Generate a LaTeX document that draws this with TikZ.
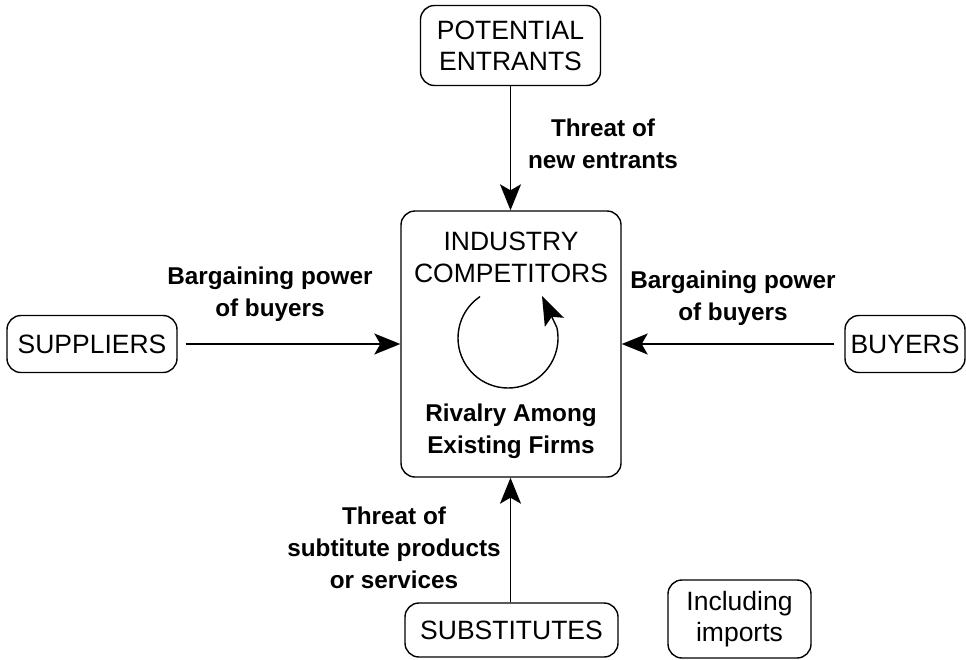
\documentclass[tikz,border=0pt]{standalone}
\usepackage{fontspec}
\setmainfont{Liberation Sans}
\usetikzlibrary{arrows.meta}
\begin{document}
\begin{tikzpicture}[x=1pt,y=-1pt,
 box/.style={draw,line width=1.4pt,rounded corners=14pt,inner sep=0pt,align=center,font=\fontsize{26.5}{31}\selectfont},
 lbl/.style={font=\bfseries\fontsize{24.3}{32}\selectfont,align=center,inner sep=0pt},
 txt/.style={font=\fontsize{26.5}{32}\selectfont,align=center,inner sep=0pt},
 arr/.style={line width=1.4pt,-{Stealth[length=26pt,width=21pt,inset=6pt]}}]
\useasboundingbox (0,0) rectangle (966,659);
% boxes
\node[box,minimum width=180pt,minimum height=80pt] (pe) at (510.5,45.5) {POTENTIAL\\ENTRANTS};
\node[box,minimum width=170pt,minimum height=57pt] (sup) at (92,344) {SUPPLIERS};
\node[box,minimum width=120pt,minimum height=57pt] (buy) at (905,344) {BUYERS};
\node[box,minimum width=213pt,minimum height=54pt] (sub) at (511.5,630) {SUBSTITUTES};
\node[box,minimum width=143pt,minimum height=78pt] (imp) at (739.5,619) {Including\\imports};
\node[box,minimum width=220pt,minimum height=266pt] (ind) at (511,344) {};
% inner texts
\node[txt] (indt) at (511,257) {INDUSTRY\\COMPETITORS};
\node[lbl] (riv) at (511,431) {Rivalry Among\\Existing Firms};
% rivalry circle
\coordinate (cc) at (508,338);
\draw[line width=1.4pt] (cc) ++(-124:50) arc[start angle=-124,end angle=-372,radius=50] coordinate (ae);
\coordinate (at) at (542,296);
\draw[line width=1.4pt,-{Stealth[length=29pt,width=21pt,inset=6pt]}] (ae) -- (at);
% connectors
\draw[arr] (pe.south) -- (pe.south |- ind.north);
\draw[arr,shorten <=8pt] (sup.east) -- (ind.west |- sup.east);
\draw[arr,shorten <=10pt] (buy.west) -- (ind.east |- buy.west);
\draw[arr] (sub.north -| pe.south) -- (pe.south |- ind.south);
% labels
\node[lbl] (l1) at (603,144) {Threat of\\new entrants};
\node[lbl] (l2) at (270,294) {Bargaining power\\of buyers};
\node[lbl] (l3) at (733,298) {Bargaining power\\of buyers};
\node[lbl] (l4) at (394,548) {Threat of\\subtitute products\\or services};
\end{tikzpicture}
\end{document}
